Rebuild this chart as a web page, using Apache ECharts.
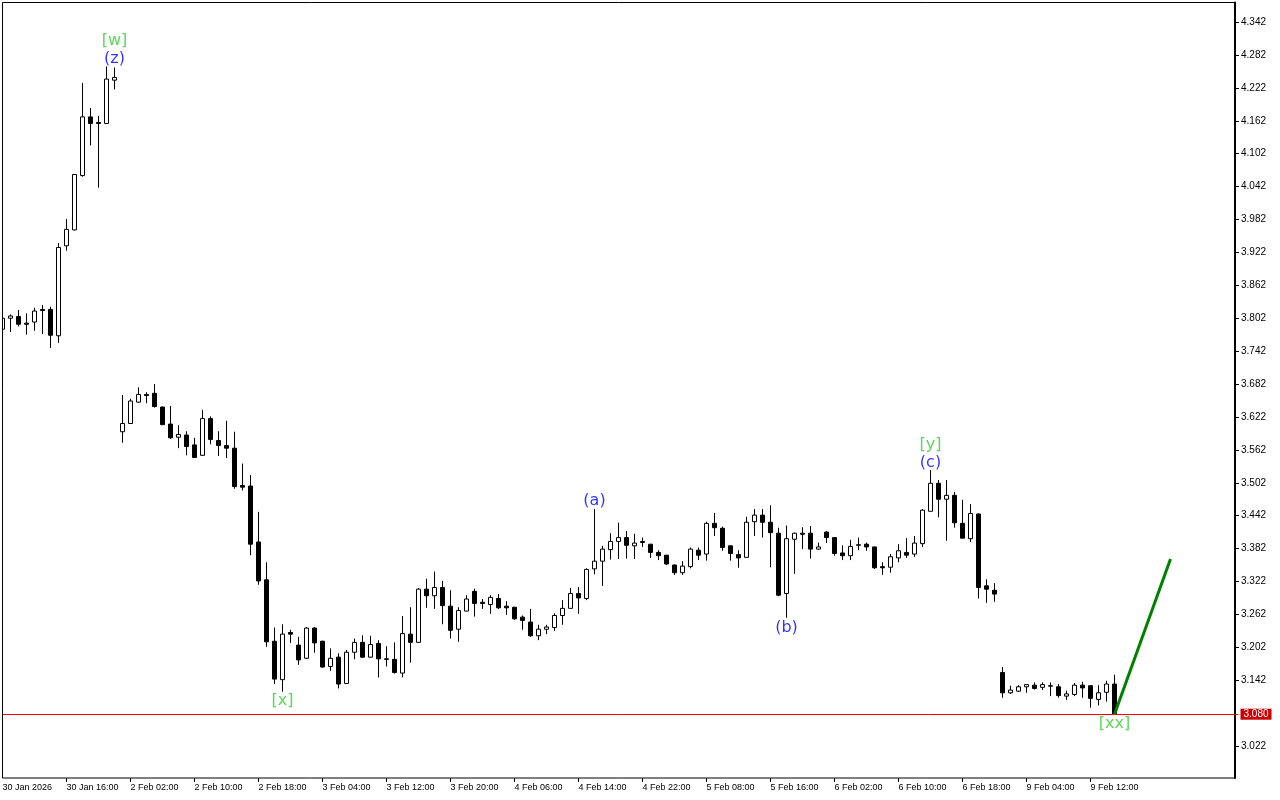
<!DOCTYPE html>
<html><head><meta charset="utf-8">
<script src="https://cdn.jsdelivr.net/npm/echarts@6/dist/echarts.min.js"></script>
<style>html,body{margin:0;padding:0;background:#fff}#c{width:1280px;height:800px}</style>
</head><body><div id="c"></div>
<script>
// Trading sessions (hourly bars, 01:00-22:00 each day)
const sessions = [['30 Jan',8,22],['2 Feb',1,22],['3 Feb',1,22],['4 Feb',1,22],['5 Feb',1,22],['6 Feb',1,22],['9 Feb',1,15]];
const categories = [];
sessions.forEach(function (s) { for (let h = s[1]; h <= s[2]; h++) categories.push(s[0] + ' ' + String(h).padStart(2, '0') + ':00'); });

const tickLabels = ['30 Jan 2026','30 Jan 16:00','2 Feb 02:00','2 Feb 10:00','2 Feb 18:00','3 Feb 04:00','3 Feb 12:00','3 Feb 20:00','4 Feb 06:00','4 Feb 14:00','4 Feb 22:00','5 Feb 08:00','5 Feb 16:00','6 Feb 02:00','6 Feb 10:00','6 Feb 18:00','9 Feb 04:00','9 Feb 12:00'];
const tickStep = 8;
const yTicks = [3.022,3.142,3.202,3.262,3.322,3.382,3.442,3.502,3.562,3.622,3.682,3.742,3.802,3.862,3.922,3.982,4.042,4.102,4.162,4.222,4.282,4.342];

const opens = [3.782,3.802,3.805,3.793,3.795,3.818,3.818,3.770,3.934,3.963,4.062,4.169,4.159,4.157,4.236,
3.595,3.610,3.649,3.663,3.665,3.640,3.609,3.585,3.589,3.571,3.552,3.619,3.579,3.570,3.565,3.497,3.496,3.394,3.325,3.213,3.143,3.229,
3.206,3.182,3.237,3.213,3.167,3.184,3.136,3.193,3.211,3.184,3.209,3.181,3.180,3.155,3.226,3.211,3.308,3.296,3.311,3.277,3.235,3.268,
3.304,3.284,3.280,3.291,3.277,3.275,3.257,3.248,3.223,3.235,3.238,3.260,3.273,3.300,3.291,3.345,3.359,3.380,3.395,3.402,3.387,3.395,
3.390,3.375,3.370,3.352,3.338,3.349,3.379,3.372,3.428,3.419,3.387,3.371,3.366,3.431,3.443,3.430,3.410,3.300,3.399,3.410,3.410,3.381,
3.412,3.402,3.374,3.369,3.389,3.390,3.385,3.349,3.348,3.365,3.375,3.372,3.391,3.450,3.501,3.472,3.479,3.428,3.400,3.445,3.314,3.306,
3.156,3.119,3.122,3.130,3.133,3.129,3.131,3.130,3.113,3.116,3.133,3.132,3.107,3.120,3.135];
const closes = [3.802,3.806,3.791,3.791,3.815,3.816,3.771,3.931,3.964,4.064,4.169,4.157,4.157,4.238,4.241,
3.610,3.651,3.663,3.661,3.641,3.608,3.584,3.590,3.568,3.548,3.619,3.581,3.570,3.565,3.495,3.494,3.390,3.323,3.212,3.144,3.226,3.226,
3.179,3.237,3.210,3.166,3.182,3.135,3.193,3.211,3.184,3.207,3.181,3.180,3.156,3.227,3.211,3.308,3.296,3.311,3.278,3.233,3.269,3.290,
3.282,3.282,3.293,3.274,3.274,3.254,3.251,3.223,3.235,3.239,3.260,3.273,3.300,3.292,3.344,3.359,3.381,3.395,3.402,3.388,3.392,3.393,
3.375,3.369,3.354,3.338,3.350,3.381,3.370,3.428,3.420,3.384,3.373,3.365,3.430,3.443,3.430,3.411,3.297,3.400,3.410,3.408,3.381,3.385,
3.402,3.373,3.369,3.386,3.388,3.385,3.347,3.347,3.367,3.378,3.370,3.392,3.452,3.501,3.472,3.479,3.429,3.401,3.446,3.311,3.308,3.299,
3.119,3.124,3.130,3.134,3.127,3.134,3.132,3.114,3.117,3.133,3.128,3.109,3.119,3.135,3.080];
const lows = [3.778,3.777,3.787,3.772,3.779,3.773,3.748,3.757,3.925,3.962,4.060,4.117,4.040,4.157,4.219,
3.575,3.610,3.648,3.647,3.639,3.607,3.582,3.565,3.552,3.547,3.551,3.572,3.551,3.547,3.491,3.488,3.370,3.316,3.203,3.135,3.121,3.210,
3.170,3.181,3.192,3.165,3.159,3.127,3.136,3.180,3.183,3.183,3.147,3.167,3.154,3.147,3.174,3.211,3.274,3.272,3.244,3.218,3.212,3.268,
3.258,3.272,3.263,3.272,3.261,3.252,3.234,3.221,3.215,3.226,3.232,3.243,3.273,3.263,3.288,3.335,3.314,3.362,3.363,3.364,3.363,3.385,
3.365,3.361,3.352,3.334,3.334,3.346,3.361,3.360,3.405,3.378,3.360,3.347,3.366,3.405,3.402,3.348,3.295,3.256,3.336,3.381,3.364,3.380,
3.392,3.369,3.361,3.361,3.379,3.378,3.345,3.334,3.338,3.357,3.365,3.367,3.385,3.450,3.439,3.396,3.420,3.401,3.394,3.291,3.283,3.285,
3.110,3.117,3.121,3.119,3.125,3.124,3.113,3.110,3.106,3.113,3.110,3.092,3.096,3.103,3.080];
const highs = [3.805,3.809,3.817,3.811,3.821,3.826,3.823,3.939,3.983,4.065,4.231,4.185,4.171,4.261,4.259,
3.662,3.655,3.676,3.667,3.682,3.641,3.642,3.607,3.596,3.584,3.635,3.623,3.596,3.615,3.595,3.537,3.516,3.449,3.357,3.238,3.244,3.234,
3.221,3.239,3.239,3.214,3.200,3.191,3.197,3.218,3.224,3.223,3.215,3.204,3.211,3.259,3.275,3.310,3.327,3.340,3.323,3.306,3.275,3.297,
3.309,3.290,3.297,3.299,3.286,3.276,3.260,3.272,3.243,3.243,3.264,3.288,3.310,3.312,3.346,3.454,3.387,3.410,3.429,3.414,3.409,3.402,
3.390,3.379,3.370,3.353,3.359,3.384,3.384,3.431,3.447,3.422,3.387,3.379,3.440,3.454,3.454,3.461,3.420,3.424,3.411,3.421,3.423,3.393,
3.414,3.402,3.388,3.398,3.402,3.393,3.385,3.357,3.372,3.390,3.401,3.405,3.454,3.525,3.507,3.507,3.485,3.471,3.463,3.446,3.326,3.319,
3.166,3.132,3.133,3.134,3.138,3.138,3.138,3.135,3.123,3.137,3.139,3.132,3.133,3.141,3.152];

const currentPrice = 3.080;
const waveLine = [[139, 3.080], [146, 3.363]];
const annotations = [
  {text:'[w]', idx:14, price:4.307, color:'#32cd32'},
  {text:'(z)', idx:14, price:4.274, color:'#0000ff'},
  {text:'[x]', idx:35, price:3.104, color:'#32cd32'},
  {text:'(a)', idx:74, price:3.469, color:'#0000ff'},
  {text:'(b)', idx:98, price:3.237, color:'#0000ff'},
  {text:'[y]', idx:116, price:3.572, color:'#32cd32'},
  {text:'(c)', idx:116, price:3.538, color:'#0000ff'},
  {text:'[xx]', idx:139, price:3.062, color:'#32cd32'}
];

const SLOTS = 155;
const axisCats = categories.slice();
for (let i = axisCats.length; i < SLOTS; i++) axisCats.push('pad' + i);
const nBars = categories.length;
const showTick = function (i) { return i % tickStep === 0 && i < nBars; };

const chart = echarts.init(document.getElementById('c'), null, {renderer: 'canvas'});
chart.setOption({
  backgroundColor: '#ffffff',
  animation: false,
  grid: {left: -1.5, width: SLOTS * 8, top: 2.5, bottom: 22, containLabel: false, outerBoundsMode: 'none'},
  xAxis: {
    type: 'category', data: axisCats, boundaryGap: true,
    axisLine: {show: false},
    axisTick: {show: true, alignWithLabel: true, length: 4, interval: function (i) { return showTick(i) && i > 0; }, lineStyle: {color: '#000', width: 1}},
    axisLabel: {interval: function (i) { return showTick(i); }, formatter: function (v, i) { return tickLabels[i / tickStep] || ''; },
      align: 'left', margin: 5, fontSize: 9, color: '#000', fontFamily: 'Liberation Sans'},
    splitLine: {show: false}
  },
  yAxis: {
    type: 'value', position: 'right', offset: -3.5, min: 2.9637, max: 4.3776, scale: true,
    axisLine: {show: true, lineStyle: {color: '#000', width: 2}},
    axisTick: {show: true, length: 4, customValues: yTicks, lineStyle: {color: '#000'}},
    axisLabel: {customValues: yTicks, formatter: function (v) { return v.toFixed(3); }, margin: 6, fontSize: 10, color: '#000', fontFamily: 'Liberation Sans'},
    splitLine: {show: false}
  },
  series: [
    {
      type: 'candlestick', barWidth: 4,
      data: opens.map(function (o, i) { return [o, closes[i], lows[i], highs[i]]; }),
      itemStyle: {color: '#ffffff', color0: '#000000', borderColor: '#000000', borderColor0: '#000000', borderWidth: 1},
      emphasis: {disabled: true}, silent: true,
      markLine: {
        silent: true, symbol: ['none', 'none'],
        lineStyle: {color: '#ff0000', width: 1, type: 'solid'},
        label: {show: true, position: 'end', distance: 2, formatter: function () { return currentPrice.toFixed(3); },
          backgroundColor: '#cc0000', color: '#ffffff', padding: [1, 3, 0, 3], fontSize: 10, fontFamily: 'Liberation Sans'},
        data: [{yAxis: currentPrice}]
      }
    },
    {
      type: 'line', data: waveLine, symbol: 'none', silent: true, z: 5,
      lineStyle: {color: '#008000', width: 3}
    },
    {
      type: 'scatter', symbolSize: 1, silent: true, z: 6,
      itemStyle: {color: 'rgba(0,0,0,0)'},
      data: annotations.map(function (a) { return {value: [a.idx, a.price], name: a.text, label: {color: a.color}}; }),
      label: {show: true, position: 'inside', formatter: '{b}', fontSize: 16, fontFamily: 'DejaVu Sans'}
    }
  ],
  graphic: [
    {type: 'rect', z: 100, shape: {x: 0, y: 0, width: 2, height: 780}, style: {fill: '#ffffff'}},
    {type: 'rect', z: 101, shape: {x: 2.5, y: 2.5, width: 1232.5, height: 775.5}, style: {fill: 'none', stroke: '#000000', lineWidth: 1}}
  ]
});
</script></body></html>
